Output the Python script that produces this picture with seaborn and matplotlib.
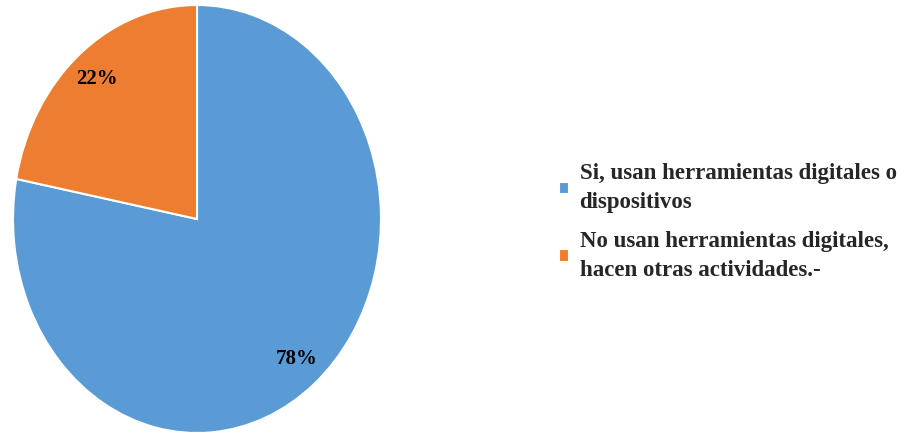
import matplotlib
matplotlib.use("Agg")
import matplotlib.pyplot as plt
import seaborn as sns

# Survey shares: use of digital tools
categories = [
    "Si, usan herramientas digitales o\ndispositivos",
    "No usan herramientas digitales,\nhacen otras actividades.-",
]
values = [78, 22]
colors = ["#5B9BD5", "#ED7D31"]

sns.set_theme(style="white")
plt.rcParams["font.family"] = ["Liberation Serif", "DejaVu Serif"]

fig = plt.figure(figsize=(9.10, 4.34), dpi=100)
ax = fig.add_axes([13 / 910, 1 / 434, 368 / 910, 428 / 434])

wedges, texts, autotexts = ax.pie(
    values,
    colors=colors,
    startangle=90,
    counterclock=False,
    autopct=lambda p: f"{p:.0f}%",
    pctdistance=0.85,
    radius=1.0,
    wedgeprops=dict(edgecolor="white", linewidth=1.5),
    textprops=dict(fontsize=15, fontweight="bold", color="black"),
)
ax.set_aspect("auto")
ax.set_xlim(-1.0, 1.0)
ax.set_ylim(-1.0, 1.0)
ax.axis("off")

leg = fig.legend(
    wedges,
    categories,
    loc="center left",
    bbox_to_anchor=(559 / 910, 1 - 222 / 434),
    frameon=False,
    prop=dict(family="Liberation Serif", weight="bold", size=16.5),
    handlelength=0.45,
    handleheight=0.45,
    handletextpad=0.45,
    labelspacing=0.75,
    borderpad=0,
    borderaxespad=0,
)
for t in leg.get_texts():
    t.set_linespacing(1.5)

fig.savefig("out.png", dpi=100, facecolor="white")
